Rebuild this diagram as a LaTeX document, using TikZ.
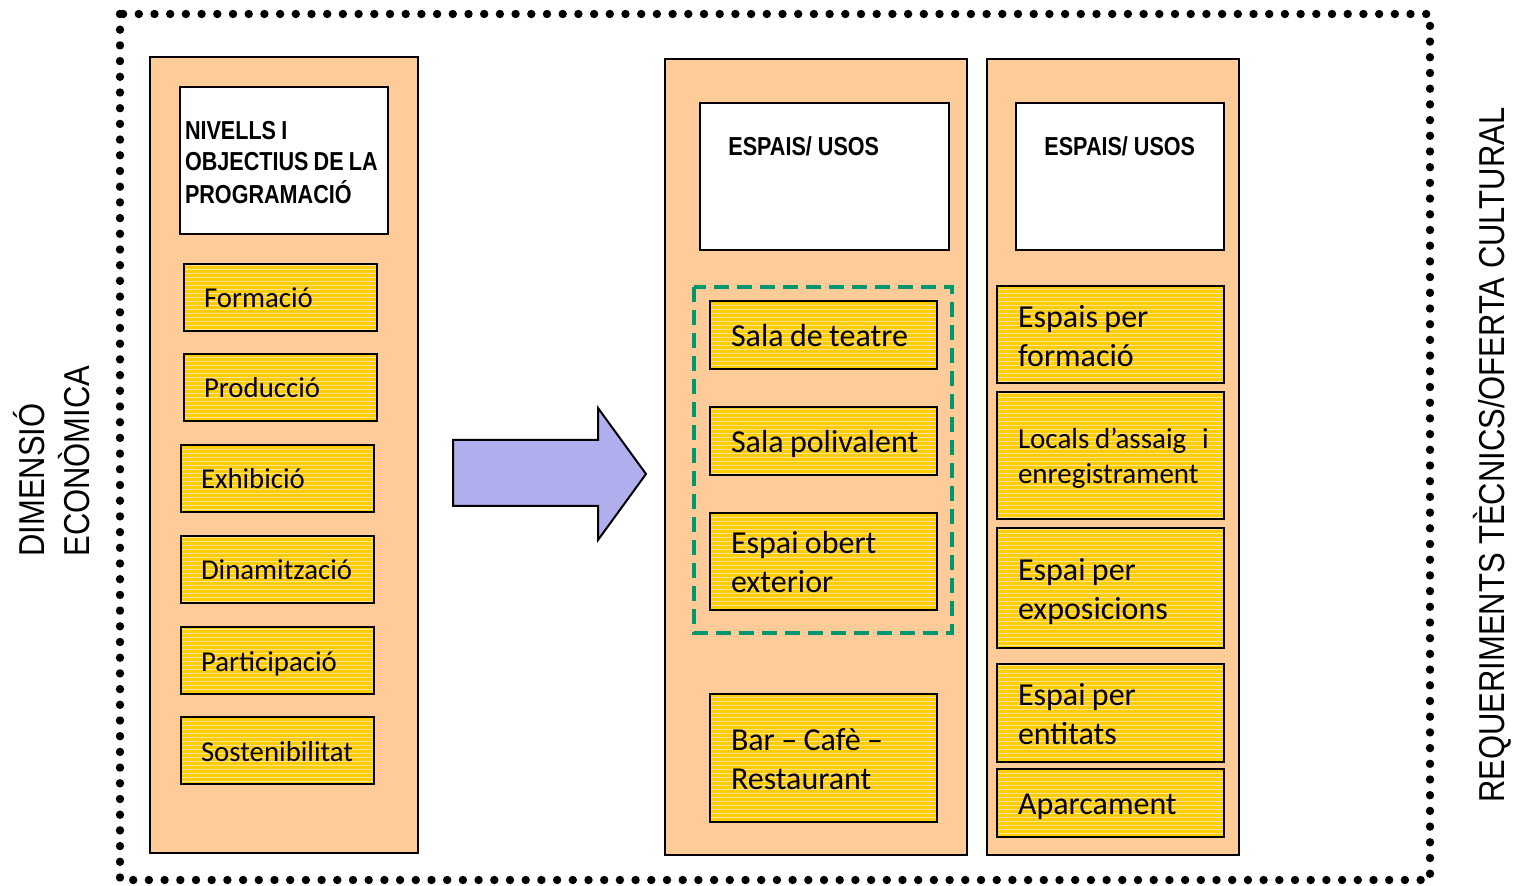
\documentclass[tikz,border=0pt]{standalone}
\usepackage{fontspec}
\setmainfont{Carlito}
\newfontfamily\narrowfont{Liberation Sans}[FakeStretch=0.83]
\newfontfamily\sidefont{Liberation Sans}[FakeStretch=0.86]
\usetikzlibrary{patterns.meta}
\definecolor{peach}{RGB}{255,204,153}
\definecolor{boxyellow}{RGB}{255,204,0}
\definecolor{stripe}{RGB}{255,228,160}
\definecolor{dashgreen}{RGB}{0,150,110}
\definecolor{lavender}{RGB}{176,174,236}
\newcommand{\lowtab}[2]{\spaceskip=0.2em\relax\raisebox{-#1}[\height][\depth]{\begin{tabular}{@{}l@{}} #2 \end{tabular}}}
\tikzstyle{panel} = [draw=black, line width=1pt, fill=peach]
\tikzstyle{titlebox} = [rectangle, draw=black, line width=1pt, fill=white, minimum width=104pt, minimum height=73.5pt]
\tikzstyle{hdr} = [inner sep=0pt, font=\narrowfont\bfseries\fontsize{13}{15.75}\selectfont]
\tikzstyle{ybox} = [rectangle, draw=black, line width=1pt, preaction={fill=boxyellow}, pattern={Lines[angle=0, distance=2pt, line width=0.5pt]}, pattern color=stripe, inner ysep=0pt]
\tikzstyle{lbox} = [ybox, minimum width=96.5pt, minimum height=33.5pt, inner xsep=10pt, text width=76.5pt, font=\fontsize{14.4}{17.5}\selectfont]
\tikzstyle{rbox} = [ybox, minimum width=113.5pt, inner xsep=10.5pt, text width=92.5pt, font=\fontsize{16}{19.5}\selectfont]
\tikzstyle{sidelabel} = [inner sep=0pt, rotate=90, font=\sidefont\fontsize{18}{22.5}\selectfont]

\begin{document}
\begin{tikzpicture}[x=0.5pt, y=-0.5pt]
\useasboundingbox (0,0) rectangle (1513,886);

% dotted frame
\draw [line width=4.2pt, line cap=round, dash pattern=on 0pt off 7.85pt] (120,14) rectangle (1430,880);

% side labels
\node at (103,557) (dimensio) [sidelabel, anchor=south west] {\begin{tabular}{@{}l@{}} DIMENSIÓ \\ ECONÒMICA \end{tabular}};
\node at (1504,803) (requeriments) [sidelabel, anchor=base west] {REQUERIMENTS TÈCNICS/OFERTA CULTURAL};

% panels
\draw [panel] (150,57) rectangle (418,853);
\draw [panel] (665,59) rectangle (967,855);
\draw [panel] (987,59) rectangle (1239,855);

% left column
\node at (284,160.5) (nivells) [titlebox, inner xsep=2.5pt, text width=99pt, hdr] {\lowtab{2.25pt}{NIVELLS I \\ OBJECTIUS DE LA \\ PROGRAMACIÓ}};
\node at (280.5,297.5) (formacio) [lbox] {\lowtab{1.75pt}{Formació}};
\node at (280.5,387.5) (produccio) [lbox] {\lowtab{1.75pt}{Producció}};
\node at (277.5,478.5) (exhibicio) [lbox] {\lowtab{1.75pt}{Exhibició}};
\node at (277.5,569.5) (dinamitzacio) [lbox] {\lowtab{1.75pt}{Dinamització}};
\node at (277.5,660.5) (participacio) [lbox] {\lowtab{1.75pt}{Participació}};
\node at (277.5,750.5) (sostenibilitat) [lbox] {\lowtab{1.75pt}{Sostenibilitat}};

% block arrow
\draw [line width=1pt, fill=lavender, line join=miter] (453,440) -- (598,440) -- (598,408) -- (646,474) -- (598,540) -- (598,506) -- (453,506) -- cycle;

% middle column
\node at (824.5,176.5) (espaisA) [titlebox, minimum width=124.5pt] {};
\node at (728,146) (usosA) [hdr, anchor=west] {ESPAIS/ USOS};
\draw [dashgreen, line width=2pt, dash pattern=on 7.5pt off 4pt] (694,287) rectangle (952,633);
\node at (823.5,335) (teatre) [rbox, minimum height=34pt] {\lowtab{2pt}{Sala de teatre}};
\node at (823.5,441) (polivalent) [rbox, minimum height=34pt] {\lowtab{2pt}{Sala polivalent}};
\node at (823.5,561.5) (obert) [rbox, minimum height=48.5pt] {\lowtab{2pt}{Espai obert \\ exterior}};
\node at (823.5,758) (bar) [rbox, minimum height=64pt] {\lowtab{2pt}{Bar – Cafè – \\ Restaurant}};

% right column
\node at (1120,176.5) (espaisB) [titlebox] {};
\node at (1044,146) (usosB) [hdr, anchor=west] {ESPAIS/ USOS};
\node at (1110.5,334.5) (espaisformacio) [rbox, minimum height=48.5pt] {\lowtab{2.25pt}{Espais per \\ formació}};
\node at (1110.5,455.5) (locals) [rbox, minimum height=63.5pt, font=\fontsize{14.5}{17.5}\selectfont] {\lowtab{2pt}{Locals d’assaig\hspace{0.55em}i \\ enregistrament}};
\node at (1110.5,588) (exposicions) [rbox, minimum height=60pt] {\lowtab{2pt}{Espai per \\ exposicions}};
\node at (1110.5,713) (entitats) [rbox, minimum height=49pt] {\lowtab{2pt}{Espai per \\ entitats}};
\node at (1110.5,803) (aparcament) [rbox, minimum height=34pt] {\lowtab{2pt}{Aparcament}};

\end{tikzpicture}
\end{document}
